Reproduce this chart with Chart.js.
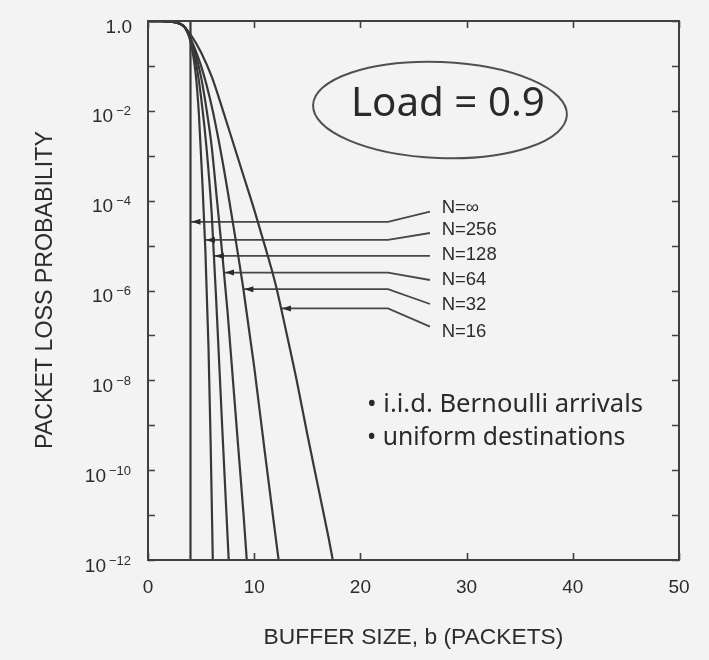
<!DOCTYPE html>
<html>
<head>
<meta charset="utf-8">
<script src="https://cdn.jsdelivr.net/npm/chart.js@4/dist/chart.umd.min.js"></script>
<style>
html,body{margin:0;padding:0;background:#f3f3f3;}
#wrap{width:709px;height:660px;position:relative;}
canvas{display:block;}
</style>
</head>
<body>
<div id="wrap"><canvas id="c" width="709" height="660"></canvas></div>
<script>
// ---------------- data (log10 of packet loss probability vs buffer size b) ----------------
const seriesNames = ['N=∞', 'N=256', 'N=128', 'N=64', 'N=32', 'N=16'];

const bufInf = [4, 4];
const logInf = [0, -12];

const buf256 = [0, 1, 2, 3, 3.5, 4, 4.5, 4.8, 5.1, 5.4, 5.7, 5.9, 6.1];
const log256 = [0, -0.003, -0.012, -0.06, -0.15, -0.45, -1.2, -2.1, -3.5, -5.1, -7.3, -9.4, -12];

const buf128 = [0, 1, 2, 3, 3.5, 4, 4.5, 5, 5.5, 6, 6.5, 7, 7.6];
const log128 = [0, -0.003, -0.012, -0.06, -0.15, -0.42, -0.9, -1.7, -2.8, -4.3, -6.6, -9.1, -12];

const buf64 = [0, 1, 2, 3, 3.5, 4, 4.5, 5, 5.5, 6, 6.5, 7, 7.5, 8, 8.5, 9, 9.3];
const log64 = [0, -0.003, -0.012, -0.06, -0.15, -0.4, -0.75, -1.25, -1.95, -2.8, -4.0, -5.2, -6.5, -8.0, -9.5, -11.0, -12];

const buf32 = [0, 1, 2, 3, 3.5, 4, 5, 6, 7, 8, 9, 10, 11, 12, 12.3];
const log32 = [0, -0.003, -0.012, -0.06, -0.15, -0.38, -1.0, -1.9, -3.1, -4.5, -6.0, -7.7, -9.6, -11.45, -12];

const buf16 = [0, 1, 2, 3, 3.5, 4, 5, 6, 7, 8, 9, 10, 11, 12, 13, 14, 15, 16, 17, 17.4];
const log16 = [0, -0.003, -0.012, -0.06, -0.15, -0.3, -0.7, -1.24, -1.95, -2.7, -3.45, -4.2, -5.0, -5.85, -6.9, -8.0, -9.2, -10.35, -11.5, -12];

// leader lines from each curve to its label
const leaderTipB = [4.0, 5.36, 6.2, 7.15, 8.98, 12.52];
const leaderLog = [-4.47, -4.875, -5.23, -5.60, -5.97, -6.40];
const leaderCornerB = 22.6;
const leaderEndB = 26.55;
const leaderEndLog = [-4.245, -4.72, -5.23, -5.766, -6.30, -6.805];
const labelB = 27.65;
const labelLog = [-4.16, -4.65, -5.21, -5.77, -6.32, -6.92];

// axes
const xTicks = [0, 10, 20, 30, 40, 50];
const yMajorExp = [0, -2, -4, -6, -8, -10, -12];
const yMinorExp = [-1, -3, -5, -7, -9, -11];
const xTitle = 'BUFFER SIZE, b (PACKETS)';
const yTitle = 'PACKET LOSS PROBABILITY';
const loadText = 'Load = 0.9';
const noteLines = ['• i.i.d. Bernoulli arrivals', '• uniform destinations'];

// ---------------- build chart ----------------
const LINE = '#383838';
const TEXT = '#2c2c2c';
const FONT = '"Liberation Sans", Arial, Helvetica, sans-serif';
const HAND = '"Noto Sans", "DejaVu Sans", sans-serif';

function pts(xa, ya) { return xa.map((x, i) => ({x: x, y: ya[i]})); }

const curveSets = [
  [bufInf, logInf], [buf256, log256], [buf128, log128],
  [buf64, log64], [buf32, log32], [buf16, log16]
];

const datasets = curveSets.map((s, i) => ({
  label: seriesNames[i],
  data: pts(s[0], s[1]),
  borderColor: LINE,
  borderWidth: 2.2,
  pointRadius: 0,
  fill: false,
  tension: i === 0 ? 0 : 0.4,
  cubicInterpolationMode: i === 0 ? 'default' : 'monotone'
}));

leaderTipB.forEach((tb, i) => {
  datasets.push({
    label: 'leader ' + seriesNames[i],
    data: [{x: tb, y: leaderLog[i]}, {x: leaderCornerB, y: leaderLog[i]}, {x: leaderEndB, y: leaderEndLog[i]}],
    borderColor: '#474747',
    borderWidth: 1.8,
    pointRadius: 0,
    tension: 0,
    fill: false
  });
});

function fitFont(ctx, text, width, family, weight) {
  ctx.font = (weight || 'normal') + ' 20px ' + family;
  const w = ctx.measureText(text).width;
  return 20 * width / w;
}

const decor = {
  id: 'decor',
  beforeDraw(chart) {
    const ctx = chart.ctx;
    ctx.save();
    ctx.fillStyle = '#f3f3f3';
    ctx.fillRect(0, 0, chart.width, chart.height);
    ctx.restore();
  },
  afterDatasetsDraw(chart) {
    const ctx = chart.ctx;
    const xs = chart.scales.x, ys = chart.scales.y;
    const a = chart.chartArea;
    ctx.save();

    // frame
    ctx.strokeStyle = '#404040';
    ctx.lineWidth = 2;
    ctx.strokeRect(a.left, a.top, a.right - a.left, a.bottom - a.top);

    // inward ticks
    ctx.lineWidth = 1.6;
    ctx.beginPath();
    yMajorExp.concat(yMinorExp).forEach(v => {
      const y = Math.round(ys.getPixelForValue(v)) + 0.5;
      ctx.moveTo(a.left, y); ctx.lineTo(a.left + 7, y);
      ctx.moveTo(a.right, y); ctx.lineTo(a.right - 7, y);
    });
    xTicks.forEach(v => {
      const x = Math.round(xs.getPixelForValue(v)) + 0.5;
      ctx.moveTo(x, a.bottom); ctx.lineTo(x, a.bottom - 7);
      ctx.moveTo(x, a.top); ctx.lineTo(x, a.top + 7);
    });
    ctx.stroke();

    // x tick labels
    ctx.fillStyle = TEXT;
    ctx.font = '19px ' + FONT;
    ctx.textAlign = 'center';
    ctx.textBaseline = 'alphabetic';
    xTicks.forEach(v => {
      ctx.fillText(String(v), xs.getPixelForValue(v), a.bottom + 33);
    });

    // y tick labels
    const rightX = 131;
    yMajorExp.forEach(v => {
      const y = ys.getPixelForValue(v);
      if (v === 0) {
        ctx.font = '19px ' + FONT;
        ctx.textAlign = 'right';
        ctx.fillText('1.0', rightX + 1, y + 12);
      } else {
        const sup = '\u2212' + String(-v);
        ctx.font = '13px ' + FONT;
        const ws = ctx.measureText(sup).width;
        ctx.textAlign = 'left';
        ctx.fillText(sup, rightX - ws, y + 4.5);
        ctx.font = '19px ' + FONT;
        const w10 = ctx.measureText('10').width;
        ctx.fillText('10', rightX - ws - 3 - w10, y + 11.5);
      }
    });

    // axis titles
    let fs = fitFont(ctx, xTitle, 300, FONT);
    ctx.font = fs.toFixed(1) + 'px ' + FONT;
    ctx.textAlign = 'center';
    ctx.fillText(xTitle, (a.left + a.right) / 2, 644);

    fs = fitFont(ctx, yTitle, 318, FONT);
    ctx.save();
    ctx.translate(52, 290);
    ctx.rotate(-Math.PI / 2);
    ctx.font = fs.toFixed(1) + 'px ' + FONT;
    ctx.textAlign = 'center';
    ctx.fillText(yTitle, 0, 0);
    ctx.restore();

    // arrowheads
    ctx.fillStyle = '#2a2a2a';
    leaderTipB.forEach((tb, i) => {
      const x = xs.getPixelForValue(tb) + 1;
      const y = ys.getPixelForValue(leaderLog[i]);
      ctx.beginPath();
      ctx.moveTo(x, y);
      ctx.lineTo(x + 9, y - 3);
      ctx.lineTo(x + 9, y + 3);
      ctx.closePath();
      ctx.fill();
    });

    // series labels
    ctx.fillStyle = TEXT;
    ctx.font = '18.5px ' + FONT;
    ctx.textAlign = 'left';
    ctx.textBaseline = 'middle';
    seriesNames.forEach((n, i) => {
      ctx.fillText(n, xs.getPixelForValue(labelB), ys.getPixelForValue(labelLog[i]));
    });
    ctx.textBaseline = 'alphabetic';

    // Load annotation
    ctx.strokeStyle = '#505050';
    ctx.lineWidth = 2;
    ctx.beginPath();
    ctx.ellipse(440, 110, 127, 48, 0.04, 0, Math.PI * 2);
    ctx.stroke();
    ctx.fillStyle = '#2a2a2a';
    fs = fitFont(ctx, loadText, 194, HAND);
    ctx.font = fs.toFixed(1) + 'px ' + HAND;
    ctx.textAlign = 'left';
    ctx.fillText(loadText, 351, 116);

    // notes
    fs = fitFont(ctx, noteLines[0], 276, HAND);
    ctx.font = fs.toFixed(1) + 'px ' + HAND;
    ctx.fillText(noteLines[0], 367, 412);
    fs = fitFont(ctx, noteLines[1], 258, HAND);
    ctx.font = fs.toFixed(1) + 'px ' + HAND;
    ctx.fillText(noteLines[1], 367, 445);

    ctx.restore();
  }
};

new Chart(document.getElementById('c'), {
  type: 'line',
  data: {datasets: datasets},
  options: {
    responsive: false,
    animation: false,
    devicePixelRatio: 1,
    layout: {padding: {left: 148, right: 30, top: 21, bottom: 100}},
    scales: {
      x: {type: 'linear', min: 0, max: 50, display: false},
      y: {type: 'linear', min: -12, max: 0, display: false}
    },
    plugins: {legend: {display: false}, tooltip: {enabled: false}},
    elements: {line: {capBezierPoints: true}}
  },
  plugins: [decor]
});
</script>
</body>
</html>
